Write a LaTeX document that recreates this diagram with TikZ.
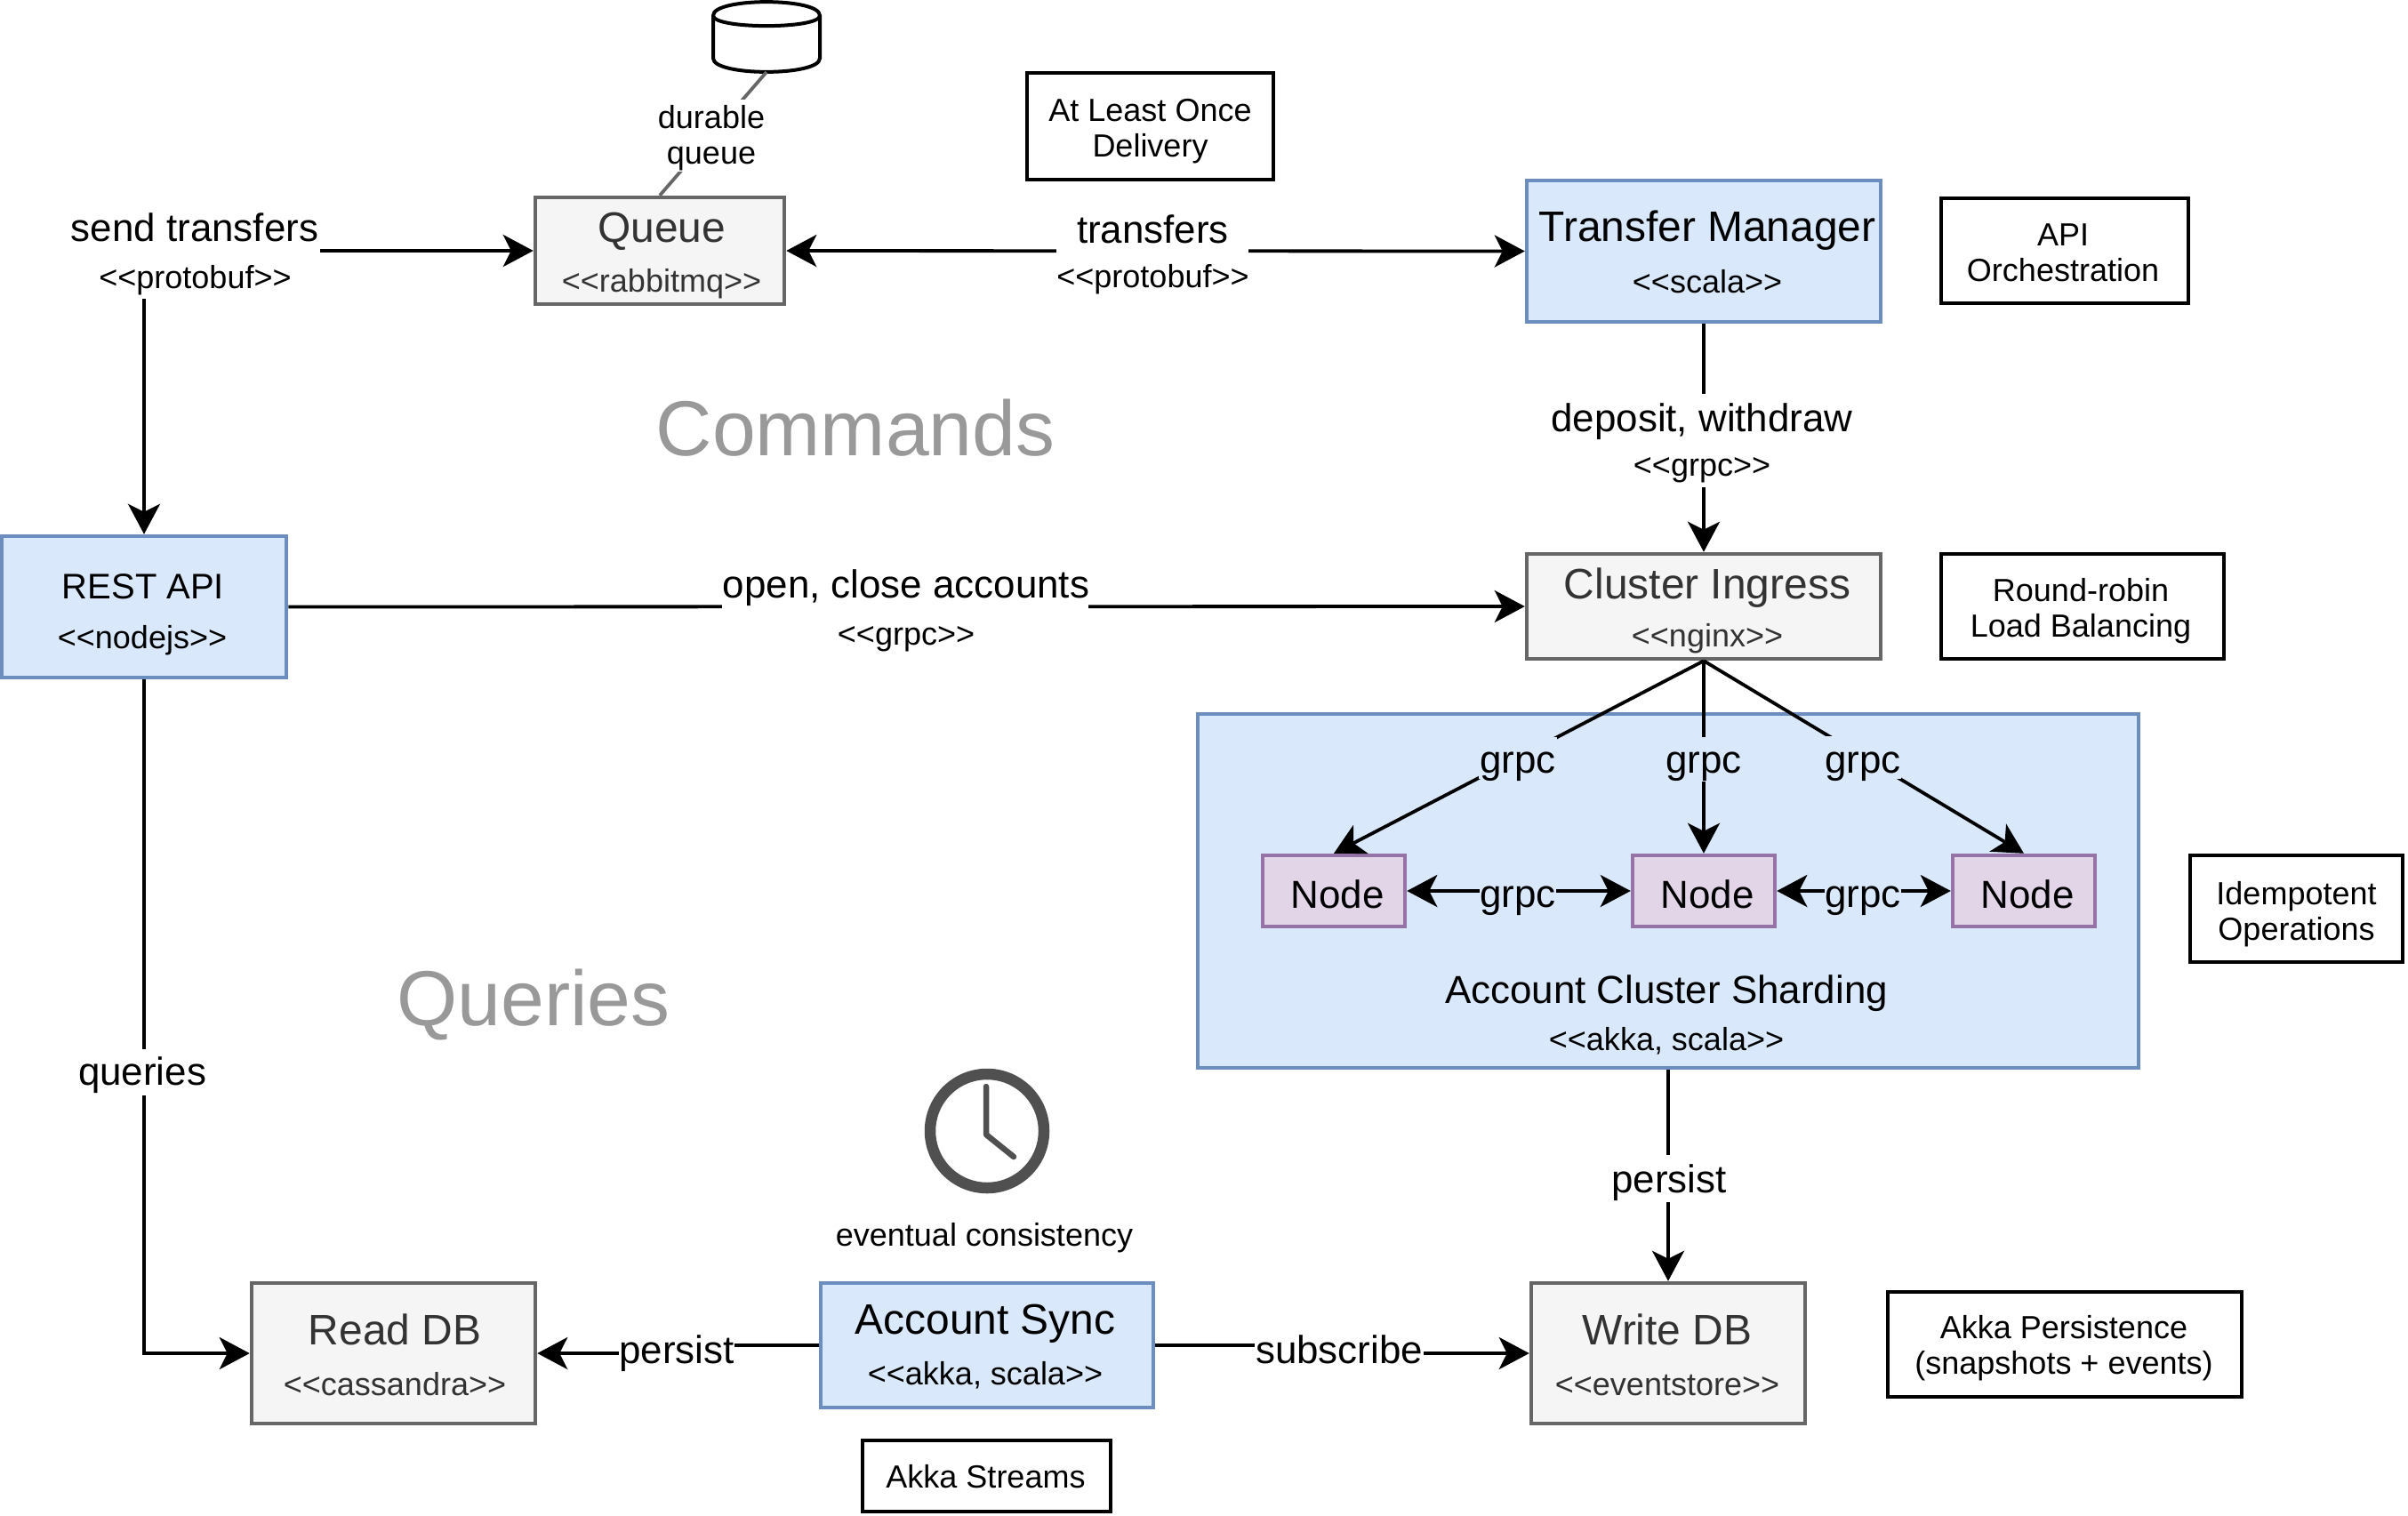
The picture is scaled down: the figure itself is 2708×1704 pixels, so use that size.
\documentclass[tikz,border=0pt]{standalone}
\usepackage{fontspec}
\newfontfamily\dfont{Liberation Sans}
\usetikzlibrary{arrows.meta}
\definecolor{bluefill}{HTML}{DAE8FC}
\definecolor{bluedraw}{HTML}{6C8EBF}
\definecolor{grayfill}{HTML}{F5F5F5}
\definecolor{graydraw}{HTML}{666666}
\definecolor{graytext}{HTML}{333333}
\definecolor{purpfill}{HTML}{E1D5E7}
\definecolor{purpdraw}{HTML}{9673A6}
\definecolor{headtext}{HTML}{999999}
\definecolor{clockgray}{HTML}{505050}
\def\fH{87.7}
\def\fL{47.9}
\def\fM{43.9}
\def\fS{36}
% \tl{size px}{dx px}{dy px}{text}: one line of text, centred about (dx,dy) from the node centre
\newcommand{\tl}[4]{\hbox to 0pt{\hskip\dimexpr #2\dimexpr 0.5pt\relax\relax\hss
  \pgfmathsetlengthmacro\tlr{-0.5*(#3)-0.16*(#1)}\pgfmathsetmacro\tls{0.5*(#1)}%
  \raisebox{\tlr}[0pt][0pt]{\dfont\fontsize{\tls}{\tls}\selectfont #4}\hss\hskip-\dimexpr #2\dimexpr 0.5pt\relax\relax}}
\tikzset{
  sz/.style 2 args={minimum width=#1*0.5pt,minimum height=#2*0.5pt},
  bx/.style 2 args={minimum width=(#1-1.5)*0.5pt,minimum height=(#2-1.5)*0.5pt},
  basebox/.style={shape=rectangle,draw,line width=2pt,inner sep=0pt},
  bluebox/.style={basebox,fill=bluefill,draw=bluedraw},
  graybox/.style={basebox,fill=grayfill,draw=graydraw,text=graytext},
  nodebox/.style={basebox,fill=purpfill,draw=purpdraw},
  notebox/.style={basebox,fill=white,draw=black,line width=2.1pt},
  lbl/.style={shape=rectangle,fill=white,inner sep=0pt},
  lblblue/.style={shape=rectangle,fill=bluefill,inner sep=0pt},
  free/.style={shape=rectangle,inner sep=0pt},
  conn/.style={line width=1.9pt,draw=black,-{Stealth[length=17pt,width=18pt,inset=4.5pt]}},
  conntwo/.style={line width=1.9pt,draw=black,{Stealth[length=17pt,width=18pt,inset=4.5pt]}-{Stealth[length=17pt,width=18pt,inset=4.5pt]}},
  plainconn/.style={line width=1.9pt,draw=graydraw},
}
\begin{document}
\begin{tikzpicture}[x=0.5pt,y=-0.5pt]
\useasboundingbox (0,0) rectangle (2708,1704);
% headings
\node[free,sz={450}{100}] (commands) at (962,482) {\tl{\fH}{0}{2}{\color{headtext}Commands}};
\node[free,sz={310}{100}] (queries) at (600,1122) {\tl{\fH}{0}{3}{\color{headtext}Queries}};
% cylinder
\coordinate (dq) at (862,81);
\draw[line width=2pt,fill=white] (802,17.5) .. controls (802,-3) and (922,-3) .. (922,17.5) -- (922,65.5)
  .. controls (922,86) and (802,86) .. (802,65.5) -- cycle;
\draw[line width=2pt] (802,17.5) .. controls (802,33) and (922,33) .. (922,17.5);
% main boxes
\node[graybox,bx={282}{122}] (queue) at (742,282) {\tl{\fL}{2}{-25}{Queue}\tl{\fS}{2}{35}{<<rabbitmq>>}};
\node[bluebox,bx={400}{161}] (tm) at (1916,282.5) {\tl{\fL}{4}{-26}{Transfer Manager}\tl{\fS}{4}{35}{<<scala>>}};
\node[graybox,bx={400}{120}] (ingress) at (1916,682) {\tl{\fL}{4}{-24}{Cluster Ingress}\tl{\fS}{4}{34}{<<nginx>>}};
\node[bluebox,bx={322}{161}] (rest) at (162,682.5) {\tl{40}{-1}{-22}{REST API}\tl{\fS}{-2}{35}{<<nodejs>>}};
\node[graybox,bx={321}{160}] (read) at (442.5,1522) {\tl{\fL}{1.5}{-25}{Read DB}\tl{\fS}{1.5}{36}{<<cassandra>>}};
\node[graybox,bx={310}{160}] (write) at (1876,1522) {\tl{\fL}{-1}{-25}{Write DB}\tl{\fS}{-1}{35.5}{<<eventstore>>}};
\node[bluebox,bx={376}{142}] (sync) at (1110,1513) {\tl{\fL}{-2}{-27.5}{Account Sync}\tl{\fS}{-2}{32.5}{<<akka, scala>>}};
\node[bluebox,bx={1060}{400}] (cluster) at (1876,1002) {\tl{\fM}{-2}{112}{Account Cluster Sharding}\tl{\fS}{-2}{167.5}{<<akka, scala>>}};
\node[nodebox,bx={162}{82}] (n1) at (1500,1002) {\tl{\fM}{4}{5}{Node}};
\node[nodebox,bx={162}{82}] (n2) at (1916,1002) {\tl{\fM}{4}{5}{Node}};
\node[nodebox,bx={162}{82}] (n3) at (2276,1002) {\tl{\fM}{4}{5}{Node}};
% notes
\node[notebox,bx={279}{122}] (n-once) at (1293.5,142) {\tl{\fS}{0}{-17.5}{At Least Once}\tl{\fS}{0}{22.5}{Delivery}};
\node[notebox,bx={280}{120}] (n-api) at (2322,282) {\tl{\fS}{-2}{-17}{API}\tl{\fS}{-2}{23}{Orchestration}};
\node[notebox,bx={320}{120}] (n-rr) at (2342,682) {\tl{\fS}{-2}{-17}{Round-robin}\tl{\fS}{-2}{23}{Load Balancing}};
\node[notebox,bx={241}{122}] (n-idem) at (2582.5,1022) {\tl{\fS}{0}{-16}{Idempotent}\tl{\fS}{0}{24}{Operations}};
\node[notebox,bx={400}{120}] (n-pers) at (2322,1512) {\tl{\fS}{-1}{-18}{Akka Persistence}\tl{\fS}{-1}{22}{(snapshots + events)}};
\node[notebox,bx={281}{81}] (n-str) at (1109.5,1660) {\tl{\fS}{-1}{2}{Akka Streams}};
% clock
\node[shape=circle,draw=clockgray,line width=6.25pt,inner sep=0pt,minimum size=64pt] (clock) at (1110,1272) {};
\draw[draw=clockgray,line width=3.25pt,line cap=round,line join=round] (1109,1222) -- (1109,1276) -- (1140,1301);
\node[free,sz={340}{50}] (eventual) at (1107,1390) {\tl{\fS}{0}{0}{eventual consistency}};
% free labels
\coordinate (m1) at (761,1516);
\coordinate (m2) at (1506,1516);
% connectors
\draw[plainconn] (dq) -- (queue.north);
\draw[conntwo] (queue.east) -- (tm.west);
\draw[conn] (tm.south) -- (ingress.north);
\draw[conn] (rest.east) -- (ingress.west);
\draw[conn] (rest.south) |- (read.west);
\draw[conn] (cluster.south) -- (write.north);
\draw[conn] (sync.west) -| (m1) |- (read.east);
\draw[conn] (sync.east) -| (m2) |- (write.west);
\draw[conn] (ingress.south) -- (n1.north);
\draw[conn] (ingress.south) -- (n2.north);
\draw[conn] (ingress.south) -- (n3.north);
\draw[conntwo] (n1.east) -- (n2.west);
\draw[conntwo] (n2.east) -- (n3.west);
% labels over connectors
\node[lbl,sz={282}{108}] (l-send) at (219,282) {\tl{\fM}{0}{-24.5}{send transfers}\tl{\fS}{0.5}{31}{<<protobuf>>}};
\draw[conn] (l-send.east) -- (queue.west);
\draw[conn] (l-send.south -| rest.north) -- (rest.north);
\node[lbl,sz={130}{81}] (l-durable) at (800,152) {\tl{\fS}{0}{-19}{durable}\tl{\fS}{0}{21}{queue}};
\node[lbl,sz={216}{108}] (l-xfer) at (1296,285) {\tl{\fM}{0.5}{-25.5}{transfers}\tl{\fS}{0.5}{27}{<<protobuf>>}};
\node[lbl,sz={340}{105}] (l-dep) at (1914,495.5) {\tl{\fM}{0}{-24.5}{deposit, withdraw}\tl{\fS}{0}{28.5}{<<grpc>>}};
\node[lbl,sz={412}{108}] (l-open) at (1018,685) {\tl{\fM}{1}{-26.5}{open, close accounts}\tl{\fS}{1}{28.5}{<<grpc>>}};
\node[lbl,sz={146}{52}] (l-q) at (160,1206) {\tl{\fM}{0}{0}{queries}};
\node[lbl,sz={136}{53}] (l-p1) at (1877,1325.5) {\tl{\fM}{0}{2}{persist}};
\node[lbl,sz={130}{50}] (l-p2) at (761,1518) {\tl{\fM}{0}{1}{persist}};
\node[lbl,sz={190}{50}] (l-sub) at (1506,1517) {\tl{\fM}{0}{2}{subscribe}};
\node[lblblue,sz={88}{47}] (g1) at (1707,852) {\tl{\fM}{0}{3.5}{grpc}};
\node[lblblue,sz={88}{50}] (g2) at (1916,854) {\tl{\fM}{0}{1.5}{grpc}};
\node[lblblue,sz={86}{48}] (g3) at (2095,852) {\tl{\fM}{0}{3.5}{grpc}};
\node[lblblue,sz={86}{50}] (g4) at (1707,1005) {\tl{\fM}{0}{1}{grpc}};
\node[lblblue,sz={86}{50}] (g5) at (2095,1005) {\tl{\fM}{0}{1}{grpc}};
\end{tikzpicture}
\end{document}
